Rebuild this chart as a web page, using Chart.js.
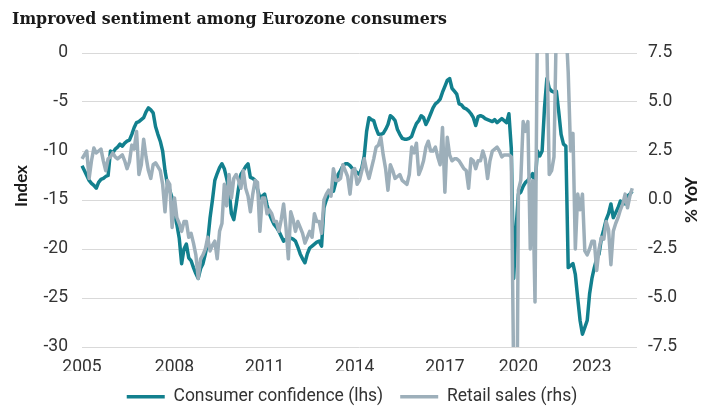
<!DOCTYPE html>
<html>
<head>
<meta charset="utf-8">
<script src="https://cdn.jsdelivr.net/npm/chart.js@4.4.1/dist/chart.umd.min.js"></script>
<style>
  html, body { margin: 0; padding: 0; background: #fff; }
  #wrap { width: 704px; height: 407px; position: relative; }
</style>
</head>
<body>
<div id="wrap"><canvas id="chart"></canvas></div>
<script>
// --- Data (monthly, Jan 2005 onwards) ---
const startYear = 2005;
const totalMonths = 235; // axis runs a little past the last observation
const tickYears = ['2005', '2008', '2011', '2014', '2017', '2020', '2023'];
const tickIdx = [0, 39, 77, 115, 153, 184, 215]; // where the source puts its year labels

// Consumer confidence, index (lhs)
const confidence = [
  -11.5, -12, -12.5, -13, -13.3, -13.5, -13.8, -13.2, -12.9, -12.8, -12.6, -12.5,
  -10, -10.2, -9.8, -9.6, -9.3, -9.5, -9.2, -9, -8.9, -8.3, -7.6, -7.1,
  -7, -6.8, -6.6, -6, -5.6, -5.8, -6.1, -7.5, -8.3, -9, -10, -12,
  -13.4, -14, -14.8, -16.4, -17.5, -18.9, -21.5, -20, -19.5, -20.9, -21.2, -21.9,
  -22.5, -23, -22, -21.5, -20.5, -19.2, -16.8, -15, -13, -12.3, -11.7, -11.3,
  -11.8, -12.8, -14, -16.4, -17, -15.5, -13.8, -12.4, -12, -11.6, -11.3, -12.7,
  -12.8, -13, -13.9, -14.8, -14.6, -14.4, -15.5, -16.4, -17, -17.5, -17.8, -18.2,
  -18.7, -19.2, -19, -18.9, -18.9, -19, -19.2, -19.8, -20.5, -21, -21.4, -20.5,
  -19.9, -19.7, -19.5, -19.3, -19.2, -19.7, -15.8, -15, -14.4, -14.2, -14.1, -13.2,
  -12.4, -12, -11.5, -11.3, -11.3, -11.5, -11.8, -12, -12.2, -12.4, -11.7, -10.5,
  -8, -6.6, -6.8, -6.9, -7.7, -8.3, -8.3, -8.2, -7.8, -7.3, -6.4, -6.6,
  -6.9, -7.8, -8.3, -8.7, -8.8, -8.8, -8.7, -8.5, -7.8, -7.2, -6.9, -6.4,
  -6.6, -7.3, -6.8, -6.2, -5.6, -5.2, -5, -4.7, -4, -3.4, -2.8, -2.6,
  -3.6, -3.9, -4.2, -5.2, -5.3, -5.6, -5.7, -5.9, -6.2, -6.6, -7.4, -6.5,
  -6.4, -6.5, -6.7, -6.8, -6.9, -7, -6.8, -7.1, -6.9, -6.7, -6.9, -7.1,
  -6.2, -9.7, -23, -18, -14.4, -14.2, -13.6, -13.2, -13, -12.6, -12.3, -13.5,
  -10, -10.5, -10, -5.6, -2.6, -3.6, -3.9, -4, -3.9, -6, -8.3, -9.3,
  -9.5, -21.9, -21.7, -21.5, -22.6, -25, -27.3, -28.7, -28, -27.3, -24.6, -23,
  -21.9, -21, -20.5, -18.9, -18, -17, -16.4, -15.4, -16.8, -16.3, -15.8, -15.1,
  -15.3, -15.4, -14.6, -14.4, -14.1
];

// Retail sales, % YoY (rhs)
const retail = [
  2.1, 2.3, 2.5, 1.1, 2.0, 2.65, 2.4, 2.5, 2.6, 2.0, 1.5, 2.1,
  2.2, 2.4, 2.2, 2.1, 2.2, 2.3, 2.0, 1.6, 1.95, 2.8, 2.6, 3.5,
  1.3, 1.8, 3.1, 2.2, 1.5, 1.1, 1.8, 1.9, 1.7, 1.5, 0.8, -0.6,
  1.0, 0.8, -1.4, 0.1, -0.9, -1.2, -1.6, -1.1, -1.1, -1.9, -1.7, -2.2,
  -2.8, -4.0, -3.0, -2.8, -2.5, -1.9, -2.6, -2.3, -2.1, -3.0, -1.6, -1.2,
  0.8, -0.3, 1.3, 0.1, 1.1, 1.3, 1.0, 0.6, 1.5, 0.6, 0.2, -0.6,
  0.3, 1.0, 0.9, -1.6, 0.1, 0.1, -0.7, -0.5, -0.7, -1.1, -1.1, -1.6,
  -1.0, -0.2, -1.4, -3.0, -0.6, -1.0, -1.6, -1.1, -1.4, -1.7, -2.2, -1.9,
  -1.6, -1.9, -0.7, -1.1, -1.1, -1.7, 0.0, 0.3, 0.5, 0.2, 1.6, 1.0,
  1.0, 1.1, 1.8, 1.5, 1.2, 0.3, 1.5, 1.6, 0.8, 1.0, 1.5, 2.1,
  1.5, 1.1, 1.6, 2.1, 2.7, 2.8, 3.2, 2.3, 1.6, 0.5, 1.8, 1.5,
  1.1, 1.2, 1.3, 1.0, 0.9, 0.8, 1.3, 2.7, 2.4, 2.9, 1.3, 1.6,
  2.0, 2.7, 3.0, 2.5, 2.5, 2.7, 2.2, 1.8, 3.7, 0.4, 3.2, 2.3,
  2.0, 2.1, 2.1, 2.0, 1.8, 1.6, 1.5, 0.6, 2.1, 2.0, 1.6, 2.0,
  2.0, 2.5, 2.1, 1.1, 2.0, 2.5, 2.6, 2.7, 2.5, 2.2, 2.3, 2.3,
  2.3, 2.2, -9, -19, 0.5, 1.0, 4.0, 3.5, 4.0, -2.5, 1.0, -5.2,
  9, 12, 14, 22, 8, 1.3, 1.5, 2.2, 9, 8.5, 9, 8,
  9, 6.5, 2.5, 3.4, -2.5, 0.3, -0.5, 0.3, -2.6, -2.8, -2.5, -2.1,
  -2.1, -3.6, -2.5, -1.9, -2.0, -1.1, -1.5, -3.3, -1.6, -1.2, -0.9, -0.5,
  -0.2, 0.3, -0.4, 0.2, 0.6
];

const months = [];
for (let m = 0; m < totalMonths; m++) {
  months.push(`${startYear + Math.floor(m / 12)}-${String(m % 12 + 1).padStart(2, '0')}`);
}

const TEAL = '#12808e';
const GREY = '#9dafba';
const tickFont = { family: "'Roboto', sans-serif", size: 17.5 };

// Title and the two rotated axis titles are painted here
const extraText = {
  id: 'extraText',
  afterDraw(chart) {
    const ctx = chart.ctx;
    ctx.save();
    ctx.fillStyle = '#1a1a1a';
    ctx.font = "600 15.8px 'DejaVu Serif', serif";
    ctx.textBaseline = 'middle';
    ctx.fillText('Improved sentiment among Eurozone consumers', 12, 20);

    ctx.font = "bold 17px 'Lato', sans-serif";
    ctx.textAlign = 'center';
    [['Index', 22, 186], ['% YoY', 692, 200]].forEach(([txt, x, y]) => {
      ctx.save();
      ctx.translate(x, y);
      ctx.rotate(-Math.PI / 2);
      ctx.fillText(txt, 0, 0);
      ctx.restore();
    });
    ctx.restore();
  }
};

new Chart(document.getElementById('chart'), {
  type: 'line',
  data: {
    labels: months,
    datasets: [
      { label: 'Consumer confidence (lhs)', data: confidence, yAxisID: 'y',
        borderColor: TEAL, backgroundColor: TEAL, borderWidth: 3.5, order: 1 },
      { label: 'Retail sales (rhs)', data: retail, yAxisID: 'y1',
        borderColor: GREY, backgroundColor: GREY, borderWidth: 3.5, order: 0 }
    ]
  },
  options: {
    responsive: true,
    maintainAspectRatio: false,
    animation: false,
    layout: { padding: { top: 53, left: 0, right: 0, bottom: 0 } },
    elements: { point: { radius: 0 }, line: { tension: 0, borderJoinStyle: 'round' } },
    plugins: {
      tooltip: { enabled: false },
      legend: {
        position: 'bottom',
        maxHeight: 36,
        labels: {
          usePointStyle: true, pointStyle: 'line', pointStyleWidth: 38,
          color: '#333', font: tickFont, padding: 17,
          sort: (a, b) => a.datasetIndex - b.datasetIndex
        }
      }
    },
    scales: {
      x: {
        type: 'category',
        offset: false,
        grid: { display: false, drawTicks: false },
        border: { display: false },
        afterFit: s => { s.height = 24; },
        ticks: {
          autoSkip: false, maxRotation: 0, minRotation: 0, padding: 10,
          color: '#333', font: tickFont,
          callback: (v, i) => {
            const k = tickIdx.indexOf(i);
            return k >= 0 ? tickYears[k] : '';
          }
        }
      },
      y: {
        position: 'left', min: -30, max: 0,
        afterFit: s => { s.width = 82; },
        grid: { color: '#d9d9d9', drawTicks: false },
        border: { display: false },
        ticks: { stepSize: 5, padding: 14, color: '#333', font: tickFont }
      },
      y1: {
        position: 'right', min: -7.5, max: 7.5,
        afterFit: s => { s.width = 67; },
        grid: { display: false, drawTicks: false },
        border: { display: false },
        ticks: { stepSize: 2.5, padding: 11, color: '#333', font: tickFont,
          callback: v => v.toFixed(1) }
      }
    }
  },
  plugins: [extraText]
});
</script>
</body>
</html>
